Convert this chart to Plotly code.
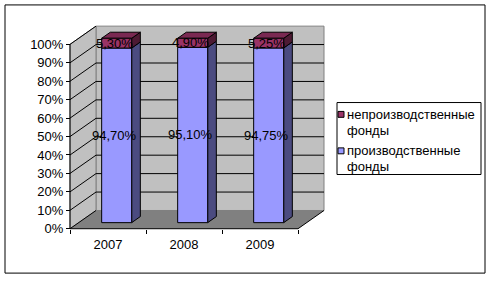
import plotly.graph_objects as go

# ---------------- data ----------------
years = ['2007', '2008', '2009']
prod = [94.70, 95.10, 94.75]          # производственные фонды, %
nonprod = [5.30, 4.90, 5.25]          # непроизводственные фонды, %
prod_labels = ['94,70%', '95,10%', '94,75%']
nonprod_labels = ['5,30%', '4,90%', '5,25%']
y_tickvals = [0, 10, 20, 30, 40, 50, 60, 70, 80, 90, 100]
y_ticktext = ['0%', '10%', '20%', '30%', '40%', '50%', '60%', '70%', '80%', '90%', '100%']
name_nonprod = ['непроизводственные', 'фонды']
name_prod = ['производственные', 'фонды']

# ---------------- style / geometry ----------------
W, H = 492, 284
FONT = 'Liberation Sans, Arial, sans-serif'
FX0, FX1 = 70, 298          # front plane: category band edges (px)
FY0, FY100 = 232, 45        # front plane: 0% and 100% (px)
DEPTH_X, DEPTH_Y = 26, 18.5 # px offset of the back wall
PL, PR, PT, PB = 66, 330, 22, 236   # plot area box (px)
BAR_PX = 30

C_PROD, C_PROD_SIDE = '#9999FF', '#4B4B80'
C_NON, C_NON_TOP, C_NON_SIDE = '#993366', '#7A2952', '#4D1A33'
C_WALL, C_FLOOR, C_EDGE = '#C0C0C0', '#808080', '#808080'

ncat = len(years)
ppc = (FX1 - FX0) / ncat
ppp = (FY0 - FY100) / 100.0
xr = [-0.5 - (FX0 - PL) / ppc, ncat - 0.5 + (PR - FX1) / ppc]
yr = [-(PB - FY0) / ppp, 100 + (FY100 - PT) / ppp]
dxd = DEPTH_X / ppc
dyd = DEPTH_Y / ppp
bw = BAR_PX / ppc
xl0, xl1 = -0.5, ncat - 0.5


def px(x):
    return x / W


def py(y):
    return 1 - y / H


def poly(pts):
    return 'M ' + ' L '.join(f'{a},{b}' for a, b in pts) + ' Z'


shapes = []


def add_path(pts, fill, line, lw=1):
    shapes.append(dict(type='path', path=poly(pts), xref='x', yref='y',
                       fillcolor=fill, line=dict(color=line, width=lw),
                       layer='below'))


def add_line(x0, y0, x1, y1, color='black', lw=1):
    shapes.append(dict(type='line', x0=x0, y0=y0, x1=x1, y1=y1, xref='x', yref='y',
                       line=dict(color=color, width=lw), layer='below'))


# walls and floor
add_path([(xl0 + dxd, dyd), (xl1 + dxd, dyd), (xl1 + dxd, 100 + dyd), (xl0 + dxd, 100 + dyd)],
         C_WALL, C_EDGE)
add_path([(xl0, 0), (xl0 + dxd, dyd), (xl0 + dxd, 100 + dyd), (xl0, 100)], C_WALL, C_EDGE)
add_path([(xl0, 0), (xl1, 0), (xl1 + dxd, dyd), (xl0 + dxd, dyd)], C_FLOOR, C_FLOOR, 0)

# gridlines
for v in y_tickvals:
    if 0 < v < 100:
        add_line(xl0 + dxd, v + dyd, xl1 + dxd, v + dyd)
    add_line(xl0, v, xl0 + dxd, v + dyd)
# front edges
add_line(xl0, 0, xl1, 0)
add_line(xl1, 0, xl1 + dxd, dyd)
add_line(xl0, 0, xl0, 100)

# bar side / top faces
b0 = dyd / 3
for i in range(ncat):
    xc = i + dxd / 3
    xa, xb = xc - bw / 2, xc + bw / 2
    segs = [(b0, b0 + prod[i], C_PROD_SIDE), (b0 + prod[i], b0 + prod[i] + nonprod[i], C_NON_SIDE)]
    for lo, hi, col in segs:
        add_path([(xb, lo), (xb + dxd / 3, lo + dyd / 3), (xb + dxd / 3, hi + dyd / 3), (xb, hi)],
                 col, 'black')
    top = b0 + prod[i] + nonprod[i]
    add_path([(xa, top), (xb, top), (xb + dxd / 3, top + dyd / 3), (xa + dxd / 3, top + dyd / 3)],
             C_NON_TOP, 'black')

bar_x = [i + dxd / 3 for i in range(ncat)]
fig = go.Figure()
fig.add_trace(go.Bar(x=bar_x, y=prod, base=[b0] * ncat, width=bw,
                     marker=dict(color=C_PROD, line=dict(color='black', width=1)),
                     showlegend=False, hoverinfo='skip'))
fig.add_trace(go.Bar(x=bar_x, y=nonprod, base=[b0 + p for p in prod], width=bw,
                     marker=dict(color=C_NON, line=dict(color='black', width=1)),
                     showlegend=False, hoverinfo='skip'))

annotations = []
for i in range(ncat):
    annotations.append(dict(x=bar_x[i], y=b0 + prod[i] / 2, text=prod_labels[i], xref='x', yref='y',
                            showarrow=False, xshift=-2, font=dict(size=13, color='black', family=FONT)))
    annotations.append(dict(x=bar_x[i], y=b0 + prod[i] + nonprod[i] / 2, text=nonprod_labels[i],
                            xref='x', yref='y', showarrow=False, xshift=-2,
                            font=dict(size=13, color='black', family=FONT)))

# outer border
shapes.append(dict(type='rect', xref='paper', yref='paper', x0=px(5), x1=px(485), y0=py(5), y1=py(277),
                   line=dict(color='black', width=1), fillcolor='rgba(0,0,0,0)', layer='above'))
# legend box
LX0, LX1, LY0, LY1 = 337, 481, 104, 177
shapes.append(dict(type='rect', xref='paper', yref='paper', x0=px(LX0), x1=px(LX1), y0=py(LY0), y1=py(LY1),
                   line=dict(color='black', width=1), fillcolor='white', layer='above'))
legend_items = [(name_nonprod, C_NON, 116), (name_prod, C_PROD, 153)]
for lines, col, yc in legend_items:
    shapes.append(dict(type='rect', xref='paper', yref='paper', x0=px(338), x1=px(344),
                       y0=py(yc - 3), y1=py(yc + 3), line=dict(color='black', width=1),
                       fillcolor=col, layer='above'))
    for k, t in enumerate(lines):
        annotations.append(dict(x=px(345), y=py(yc + 16 * k), xref='paper', yref='paper', text=t,
                                showarrow=False, xanchor='left', yanchor='middle',
                                font=dict(size=13, color='black', family=FONT)))

fig.update_layout(
    width=W, height=H, margin=dict(l=0, r=0, t=0, b=0),
    paper_bgcolor='white', plot_bgcolor='rgba(0,0,0,0)',
    barmode='overlay', showlegend=False,
    shapes=shapes, annotations=annotations,
    font=dict(family=FONT, size=13, color='black'),
    xaxis=dict(domain=[px(PL), px(PR)], range=xr, anchor='free', position=py(FY0),
               tickmode='array', tickvals=list(range(ncat)), ticktext=years,
               ticks='', showgrid=False, zeroline=False, showline=False, ticklabelstandoff=6,
               tickfont=dict(size=13, family=FONT, color='black'),
               minor=dict(tickmode='array', tickvals=[k - 0.5 for k in range(ncat + 1)],
                          ticks='outside', ticklen=4, tickcolor='black', tickwidth=1, showgrid=False)),
    yaxis=dict(domain=[py(PB), py(PT)], range=yr, anchor='free', position=px(FX0),
               tickmode='array', tickvals=y_tickvals, ticktext=y_ticktext,
               ticks='outside', ticklen=4, tickcolor='black', tickwidth=1,
               showgrid=False, zeroline=False, showline=False,
               tickfont=dict(size=13, family=FONT, color='black')),
)

fig.write_html('out.html')
